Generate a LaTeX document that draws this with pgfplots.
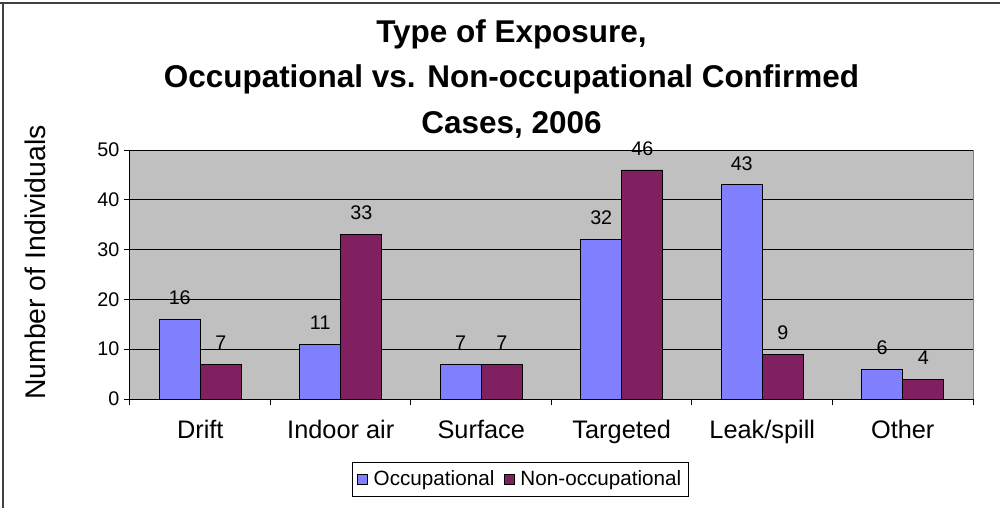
\documentclass[border=0pt]{standalone}
\usepackage{fontspec}
\setmainfont{Liberation Sans}
\usepackage{pgfplots}
\pgfplotsset{compat=1.18}
\definecolor{occ}{HTML}{8080FF}
\definecolor{nonocc}{HTML}{802060}
\definecolor{plotgray}{HTML}{C0C0C0}
\begin{document}
\begin{tikzpicture}
\begin{axis}[
 name=ax,
 scale only axis, width=632.25pt, height=186.75pt,
 xmin=-0.5, xmax=5.5, ymin=0, ymax=50,
 axis x line*=bottom, axis y line*=left,
 axis line style={-, black, line width=0.75pt},
 axis background/.style={fill=plotgray},
 ybar,
 ytick={0,10,...,50},
 xtick={0,...,5},
 xticklabels={Drift,Indoor air,Surface,Targeted,Leak/spill,Other},
 minor xtick={-0.5,0.5,...,5.5},
 every major x tick/.style={draw=none},
 tick align=outside,
 major tick length=4.5pt, minor tick length=4.5pt,
 tick style={black, line width=0.75pt},
 ymajorgrids, grid style={black, line width=0.75pt},
 xticklabel style={font=\fontsize{19}{22}\selectfont, anchor=base, yshift=-25pt},
 yticklabel style={font=\fontsize{14.8}{17}\selectfont},
 /pgf/number format/assume math mode=true,
 ylabel={Number of Individuals},
 ylabel style={font=\fontsize{21.3}{24}\selectfont, at={(axis description cs:-0.1127,0.548)}, anchor=center},
 nodes near coords,
 every node near coord/.append style={font=\fontsize{14.8}{17}\selectfont, anchor=base, yshift=11pt, inner sep=0pt, black},
 legend columns=-1,
 legend style={at={(axis description cs:0.4632,-0.3233)}, anchor=center, draw=black, line width=0.75pt,
   font=\fontsize{15.5}{18}\selectfont, inner xsep=3pt, inner ysep=4.5pt,
   /tikz/every even column/.append style={column sep=5pt}},
 legend image code/.code={\draw[#1, draw=black, line width=0.6pt] (0pt,-3.75pt) rectangle (7.5pt,3.75pt);},
]
\addplot[fill=occ, draw=black, line width=0.6pt, bar width=0.292, bar shift=-0.146]
 coordinates {(0,16) (1,11) (2,7) (3,32) (4,43) (5,6)};
\addlegendentry{\hspace{2.5pt}Occupational}
\addplot[fill=nonocc, draw=black, line width=0.6pt, bar width=0.292, bar shift=0.146]
 coordinates {(0,7) (1,33) (2,7) (3,46) (4,9) (5,4)};
\addlegendentry{\hspace{2.5pt}Non-occupational}
\end{axis}
\draw[line width=0.75pt, gray] (632.25pt,0pt) -- (632.25pt,186.75pt);
\node[anchor=base, font=\bfseries\fontsize{23.6}{28}\selectfont] at (286.1pt,267pt) {Type of Exposure,};
\node[anchor=base, font=\bfseries\fontsize{23.6}{28}\selectfont] at (286.1pt,233.25pt) {Occupational vs. Non-occupational Confirmed};
\node[anchor=base, font=\bfseries\fontsize{23.6}{28}\selectfont] at (286.1pt,199.5pt) {Cases, 2006};
\draw[line width=1.5pt, black!75] (-97.5pt,297pt) -- (652.5pt,297pt);
\draw[line width=1.5pt, black!75] (-95.25pt,-81.75pt) -- (-95.25pt,297.75pt);
\pgfresetboundingbox
\useasboundingbox (-97.5pt,-81.75pt) rectangle (652.5pt,299.25pt);
\end{tikzpicture}
\end{document}
